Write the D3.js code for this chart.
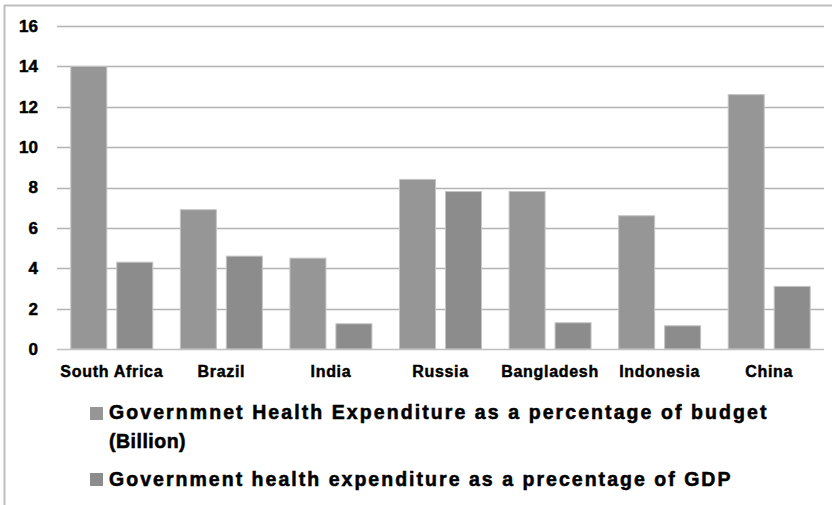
<!DOCTYPE html>
<html>
<head>
<meta charset="utf-8">
<script src="https://cdn.jsdelivr.net/npm/d3@7/dist/d3.min.js"></script>
<style>
  html, body { margin: 0; padding: 0; background: #fff; }
  svg { display: block; }
  text { font-family: "Liberation Sans", Arial, sans-serif; font-weight: bold; fill: #000; }
</style>
</head>
<body>
<svg id="chart" width="832" height="505"></svg>
<script>
// Health spending by country
const categories = ["South Africa", "Brazil", "India", "Russia", "Bangladesh", "Indonesia", "China"];
const budgetShare = [14.0, 6.9, 4.5, 8.4, 7.8, 6.6, 12.6];
const gdpShare = [4.3, 4.6, 1.25, 7.8, 1.3, 1.15, 3.1];
const seriesNames = [
  "Governmnet Health Expenditure as a percentage of budget (Billion)",
  "Government health expenditure as a precentage of GDP"
];
const yTicks = [0, 2, 4, 6, 8, 10, 12, 14, 16];

const series = [
  { key: "budget", values: budgetShare, color: "#969696" },
  { key: "gdp", values: gdpShare, color: "#8c8c8c" }
];

const svg = d3.select("#chart");

// frame (left and top edges)
svg.append("line").attr("x1", 4.5).attr("x2", 4.5).attr("y1", 5).attr("y2", 505)
  .attr("stroke", "#bdbdbd").attr("stroke-width", 2);
svg.append("line").attr("x1", 4).attr("x2", 832).attr("y1", 5.5).attr("y2", 5.5)
  .attr("stroke", "#bdbdbd").attr("stroke-width", 2);

const plot = { left: 57, right: 824, top: 26, bottom: 349 };

const y = d3.scaleLinear().domain([0, 16]).range([plot.bottom, plot.top]);
const x0 = d3.scaleBand().domain(categories).range([plot.left, plot.right]).padding(0);
const x1 = d3.scaleBand().domain(series.map(s => s.key)).range([0, x0.bandwidth()])
  .paddingInner(0.217).paddingOuter(0.3);

// gridlines
svg.append("g").selectAll("line").data(yTicks.filter(t => t > 0)).join("line")
  .attr("x1", plot.left).attr("x2", plot.right)
  .attr("y1", d => Math.round(y(d)) + 0.5).attr("y2", d => Math.round(y(d)) + 0.5)
  .attr("stroke", "#b3b3b3").attr("stroke-width", 1.3);

// y axis labels
const yAxis = d3.axisLeft(y).tickValues(yTicks).tickSize(0).tickPadding(0).tickFormat(d3.format("d"));
const gy = svg.append("g").attr("transform", "translate(38,0)").call(yAxis);
gy.select(".domain").remove();
gy.selectAll("text").style("font-size", "17px").style("font-family", "'Liberation Sans', Arial, sans-serif")
  .style("font-weight", "bold").attr("fill", "#000")
  .attr("stroke", "#000").attr("stroke-width", 0.5);

// bars
const groups = svg.append("g").selectAll("g").data(categories).join("g")
  .attr("transform", d => `translate(${x0(d)},0)`);
groups.selectAll("rect").data((c, i) => series.map(s => ({ key: s.key, value: s.values[i], color: s.color })))
  .join("rect")
  .attr("x", d => x1(d.key))
  .attr("width", x1.bandwidth())
  .attr("y", d => y(d.value))
  .attr("height", d => y(0) - y(d.value))
  .attr("fill", d => d.color)
  .attr("stroke", "#c4c4c4").attr("stroke-width", 1);

// baseline
svg.append("line").attr("x1", plot.left).attr("x2", plot.right)
  .attr("y1", plot.bottom + 0.5).attr("y2", plot.bottom + 0.5)
  .attr("stroke", "#c0c0c0").attr("stroke-width", 1.5);

// category labels
const xAxis = d3.axisBottom(x0).tickSize(0).tickPadding(0);
const gx = svg.append("g").attr("transform", `translate(0,${plot.bottom})`).call(xAxis);
gx.select(".domain").remove();
gx.selectAll("text").attr("dy", null).attr("y", 28)
  .style("font-size", "16px").style("font-family", "'Liberation Sans', Arial, sans-serif")
  .style("font-weight", "bold").style("letter-spacing", "0.7px").attr("fill", "#000")
  .attr("stroke", "#000").attr("stroke-width", 0.45);

// legend
const legend = svg.append("g");
const legendRows = [
  { sq: 407, lines: [["Governmnet Health Expenditure as a percentage of budget", 419, 658], ["(Billion)", 448, null]] },
  { sq: 473, lines: [["Government health expenditure as a precentage of GDP", 486, 622]] }
];
legendRows.forEach((row, i) => {
  legend.append("rect").attr("x", 90).attr("y", row.sq).attr("width", 13).attr("height", 13)
    .attr("fill", series[i].color);
  row.lines.forEach(([txt, base, len]) => {
    const t = legend.append("text").attr("x", 109).attr("y", base)
      .style("font-size", "19.5px").style("letter-spacing", "0.5px")
      .attr("stroke", "#000").attr("stroke-width", 0.55).text(txt);
    if (len) t.attr("textLength", len).attr("lengthAdjust", "spacing");
  });
});
</script>
</body>
</html>
